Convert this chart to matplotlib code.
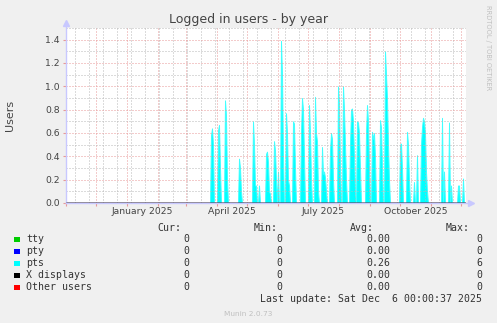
import matplotlib
matplotlib.use("Agg")
import matplotlib.pyplot as plt
import matplotlib.dates as mdates
from matplotlib.patches import Rectangle
from matplotlib.ticker import FixedLocator, MultipleLocator, FormatStrFormatter
import numpy as np
import pandas as pd

W, H = 497, 323

# time range of the yearly graph
start = pd.Timestamp("2024-11-01")
end = pd.Timestamp("2025-12-06")

# pts sessions: start day of each burst and the daily values that follow
hump_starts = [
    "2025-03-26", "2025-04-02", "2025-04-09", "2025-04-23", "2025-05-07",
    "2025-05-13", "2025-05-20", "2025-05-28", "2025-06-01", "2025-06-04",
    "2025-06-09", "2025-06-16", "2025-06-24", "2025-07-02", "2025-07-08",
    "2025-07-15", "2025-07-23", "2025-07-31", "2025-08-05", "2025-08-12",
    "2025-08-19", "2025-08-28", "2025-09-03", "2025-09-11", "2025-09-16",
    "2025-10-01", "2025-10-08", "2025-10-15", "2025-10-18", "2025-10-22",
    "2025-11-12", "2025-11-14", "2025-11-19", "2025-11-21", "2025-11-28",
    "2025-12-03",
]
hump_values = [
    [0.58, 0.64, 0.50], [0.62, 0.67, 0.30], [0.88, 0.75, 0.20], [0.38, 0.30, 0.10],
    [0.70, 0.50, 0.15, 0.15], [0.15], [0.42, 0.44, 0.35, 0.10, 0.08],
    [0.53, 0.45, 0.20], [0.27], [1.39, 1.10, 0.40], [0.77, 0.60, 0.20, 0.15],
    [0.70, 0.68, 0.30], [0.60, 0.90, 0.80, 0.40], [0.84, 0.60, 0.20],
    [0.91, 0.60, 0.53, 0.10], [0.48, 0.25, 0.27, 0.22, 0.10],
    [0.45, 0.60, 0.55, 0.20], [1.00, 0.85, 0.30], [1.00, 0.80, 0.50, 0.20],
    [0.50, 0.80, 0.81, 0.70, 0.40, 0.10], [0.70, 0.69, 0.60, 0.30],
    [0.60, 0.84, 0.70, 0.30], [0.61, 0.55, 0.60, 0.40], [0.71, 0.65, 0.30],
    [1.30, 1.10, 0.90, 0.50, 0.20], [0.50, 0.51, 0.30], [0.61, 0.50, 0.20],
    [0.18], [0.41], [0.50, 0.65, 0.73, 0.70, 0.60, 0.27, 0.10],
    [0.73], [0.27], [0.69], [0.15], [0.15, 0.15], [0.21],
]

month_labels = ["January 2025", "April 2025", "July 2025", "October 2025"]
label_months = ["2025-01-01", "2025-04-01", "2025-07-01", "2025-10-01"]

series = ["tty", "pty", "pts", "X displays", "Other users"]
colors = ["#00cc00", "#0000ff", "#00ffff", "#000000", "#ff0000"]
cur = ["0", "0", "0", "0", "0"]
mins = ["0", "0", "0", "0", "0"]
avgs = ["0.00", "0.00", "0.26", "0.00", "0.00"]
maxs = ["0", "0", "6", "0", "0"]

days = pd.date_range(start, end, freq="D")
pts = pd.Series(0.0, index=days)
for s, vals in zip(hump_starts, hump_values):
    idx = pd.date_range(s, periods=len(vals), freq="D")
    pts.loc[idx] = vals


def fx(x):
    return x / W


def fy(y):
    return 1 - y / H


fig = plt.figure(figsize=(W / 100, H / 100), dpi=100, facecolor="#f0f0f0")
ax = fig.add_axes([fx(66), fy(203), 400 / W, 175 / H])
ax.set_facecolor("white")
ax.set_xlim(start, end)
ax.set_ylim(0, 1.5)

ax.fill_between(pts.index, 0, pts.values, facecolor="#00ffff", edgecolor="#40ffff",
                lw=0.7, zorder=1)

# grid
months = pd.date_range("2024-11-01", end, freq="MS")
weeks = pd.date_range("2024-11-10", end, freq="14D")
ax.xaxis.set_major_locator(FixedLocator(mdates.date2num(months)))
ax.xaxis.set_minor_locator(FixedLocator(mdates.date2num(weeks)))
ax.set_xticklabels([])
ax.yaxis.set_major_locator(MultipleLocator(0.2))
ax.yaxis.set_minor_locator(MultipleLocator(0.1))
ax.yaxis.set_major_formatter(FormatStrFormatter("%.1f"))
ax.grid(which="major", color="#e89898", linestyle=(0, (1, 2)), linewidth=0.72)
ax.grid(which="minor", color="#b8b8b8", linestyle=(0, (1, 2)), linewidth=0.72)
ax.set_axisbelow(False)
ax.tick_params(axis="y", which="major", labelsize=6.7, labelcolor="#444444",
               length=2, color="#e89898", pad=2.3)
ax.tick_params(axis="x", which="major", length=2, color="#e89898")
ax.tick_params(which="minor", length=0)
ax.set_yticks([v for v in np.arange(0, 1.41, 0.2)])

for sp in ax.spines.values():
    sp.set_visible(False)

# axis lines with arrows
ax.plot([0, 0], [0, 1.03], transform=ax.transAxes, color="#c8c8ff", lw=1, clip_on=False, zorder=4)
ax.plot([0, 1.012], [0, 0], transform=ax.transAxes, color="#c8c8ff", lw=1, clip_on=False, zorder=4)
ax.plot([0], [1.03], transform=ax.transAxes, marker="^", ms=4, color="#c8c8ff", clip_on=False, zorder=4)
ax.plot([1.012], [0], transform=ax.transAxes, marker=">", ms=4, color="#c8c8ff", clip_on=False, zorder=4)

# the zero series
for c in ["#00cc00", "#0000ff", "#000000", "#f07070"]:
    ax.plot([start, end], [0, 0], color=c, lw=1, zorder=5, solid_capstyle="butt")

# month labels centred in the month
for lab, m in zip(month_labels, label_months):
    m0 = pd.Timestamp(m)
    mid = m0 + (m0 + pd.offsets.MonthBegin(1) - m0) / 2
    ax.text(mid, -0.05, lab, transform=ax.get_xaxis_transform(), ha="center", va="center",
            fontsize=6.7, color="#444444")

fig.text(fx(248.5), fy(19), "Logged in users - by year", ha="center", va="center",
         fontsize=9, color="#444444")
fig.text(fx(10), fy(115), "Users", rotation=90, ha="center", va="center",
         fontsize=8, color="#444444")
fig.text(fx(488), fy(5), "RRDTOOL / TOBI OETIKER", rotation=-90, ha="center", va="top",
         fontsize=4.8, color="#c0c0c0")

# legend
mono = "DejaVu Sans Mono"
lsize = 7.1
tcol = "#333333"
for lab, xr in zip(["Cur:", "Min:", "Avg:", "Max:"], [181, 278, 374, 470]):
    fig.text(fx(xr), fy(228), lab, ha="right", va="center", family=mono, fontsize=lsize, color=tcol)
for i, name in enumerate(series):
    y = 239.5 + 12 * i
    fig.patches.append(Rectangle((fx(14), fy(y + 2.8)), 5.5 / W, 5.5 / H,
                                 transform=fig.transFigure, color=colors[i], lw=0))
    fig.text(fx(26), fy(y), name, ha="left", va="center", family=mono, fontsize=lsize, color=tcol)
    for val, xr in zip([cur[i], mins[i], avgs[i], maxs[i]], [189, 282, 390, 482]):
        fig.text(fx(xr), fy(y), val, ha="right", va="center", family=mono, fontsize=lsize, color=tcol)
fig.text(fx(482), fy(299.5), "Last update: Sat Dec  6 00:00:37 2025", ha="right", va="center",
         family=mono, fontsize=lsize, color=tcol)
fig.text(fx(248), fy(314), "Munin 2.0.73", ha="center", va="center", fontsize=5.3, color="#c0c0c0")

fig.savefig("out.png", dpi=100, facecolor=fig.get_facecolor())
